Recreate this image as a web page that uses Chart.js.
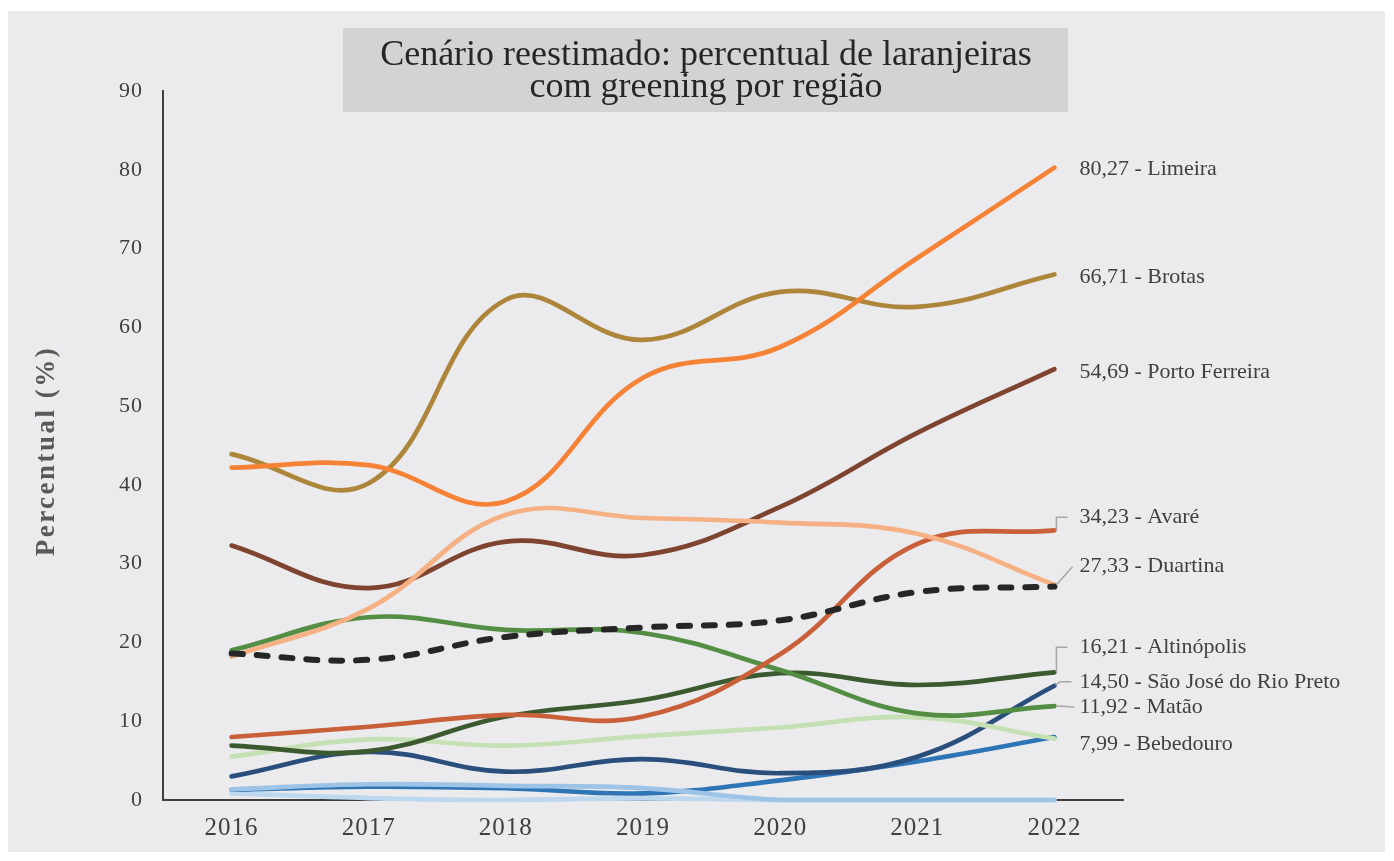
<!DOCTYPE html>
<html><head><meta charset="utf-8">
<script src="https://cdn.jsdelivr.net/npm/chart.js@4.4.0/dist/chart.umd.min.js"></script>
<style>html,body{margin:0;padding:0;background:#fff;overflow:hidden}#wrap{width:1394px;height:861px;position:relative}</style>
</head><body><div id="wrap"><canvas id="c"></canvas></div>
<script>
// ---- data ----
const years = ['2016','2017','2018','2019','2020','2021','2022'];
const limeira       = [42.2, 42.5, 37.9, 53.6, 57.5, 68.8, 80.27];
const brotas        = [43.9, 40.2, 63.5, 58.4, 64.5, 62.6, 66.71];
const portoFerreira = [32.3, 26.9, 32.8, 31.1, 37.2, 46.6, 54.69];
const avare         = [8.0, 9.3, 10.8, 10.6, 18.5, 32.5, 34.23];
const duartina      = [18.2, 24.3, 36.2, 35.8, 35.2, 33.8, 27.33];
const media         = [18.6, 17.8, 20.7, 21.9, 22.8, 26.4, 27.1];
const matao         = [19.0, 23.2, 21.6, 21.2, 16.5, 11.0, 11.92];
const altinopolis   = [6.9, 6.2, 10.6, 12.7, 16.1, 14.6, 16.21];
const verdeClaro    = [5.5, 7.7, 6.9, 8.1, 9.2, 10.5, 7.8];
const saoJose       = [3.0, 6.1, 3.6, 5.2, 3.4, 5.5, 14.50];
const bebedouro     = [1.3, 1.7, 1.5, 0.85, 2.5, 4.9, 7.99];
const azulClaro1    = [1.35, 2.0, 1.8, 1.5, 0, 0, 0];
const azulClaro2    = [0.85, 0.25, 0, 0.2, 0, 0, 0];
const yMin = 0, yMax = 90, yStep = 10;
const titleLines = ['Cenário reestimado: percentual de laranjeiras', 'com greening por região'];
const yTitle = 'Percentual (%)';
const endLabelTexts = ['80,27 - Limeira','66,71 - Brotas','54,69 - Porto Ferreira','34,23 - Avaré','27,33 - Duartina','16,21 - Altinópolis','14,50 - São José do Rio Preto','11,92 - Matão','7,99 - Bebedouro'];
const endLabelSeries = ['Limeira','Brotas','Porto Ferreira','Avaré','Duartina','Altinópolis','São José do Rio Preto','Matão','Bebedouro'];

// ---- styles ----
const SERIF = '"Liberation Serif", "DejaVu Serif", serif';
const seriesStyle = [
  ['Média', media, '#262626', 6, [11,14]],
  ['Limeira', limeira, '#f58235', 4.7],
  ['Duartina', duartina, '#f5b183', 4.7],
  ['Brotas', brotas, '#ad863b', 4.7],
  ['Porto Ferreira', portoFerreira, '#7e4430', 4.7],
  ['Avaré', avare, '#c9603a', 4.7],
  ['Matão', matao, '#548d44', 4.7],
  ['Altinópolis', altinopolis, '#3b5a2f', 4.7],
  ['Verde claro', verdeClaro, '#c5e0b3', 4.7],
  ['São José do Rio Preto', saoJose, '#2b4f7c', 4.7],
  ['Azul claro 1', azulClaro1, '#9dc3e6', 4.7],
  ['Bebedouro', bebedouro, '#2e75b6', 4.7],
  ['Azul claro 2', azulClaro2, '#bdd7ee', 4.7]
];
// label pixel offsets relative to line end: [dy, leader type]
const labelOffsets = {
  'Limeira':[2,null], 'Brotas':[3,null], 'Porto Ferreira':[3,null],
  'Avaré':[-13,'elbow'], 'Duartina':[-18,'diag'], 'Altinópolis':[-25,'elbow'],
  'São José do Rio Preto':[-4,'diag2'], 'Matão':[1,'flat'], 'Bebedouro':[7,null]
};

const decor = {
  id:'decor',
  beforeDraw(chart){
    const ctx = chart.ctx;
    ctx.save();
    ctx.fillStyle = '#ffffff'; ctx.fillRect(0,0,chart.width,chart.height);
    ctx.fillStyle = '#ebebed'; ctx.fillRect(8,11,1377,841);
    ctx.fillStyle = '#d3d3d5'; ctx.fillRect(343,28,725,84);
    ctx.fillStyle = '#262626';
    ctx.font = '36px ' + SERIF;
    ctx.textAlign = 'center'; ctx.textBaseline = 'alphabetic';
    ctx.fillText(titleLines[0], 706, 65);
    ctx.fillText(titleLines[1], 706, 97);
    // y axis title
    ctx.translate(47, 451);
    ctx.rotate(-Math.PI/2);
    ctx.font = 'bold 27px ' + SERIF;
    ctx.letterSpacing = '2.5px';
    ctx.fillStyle = '#595959';
    ctx.textBaseline = 'middle';
    ctx.fillText(yTitle, 0, 0);
    ctx.restore();
    ctx.letterSpacing = '1px';
  },
  beforeDatasetsDraw(chart){ chart.ctx.letterSpacing = '0px'; },
  afterDatasetsDraw(chart){
    const ctx = chart.ctx;
    ctx.save();
    ctx.font = '22px ' + SERIF;
    ctx.fillStyle = '#404040';
    ctx.textAlign = 'left'; ctx.textBaseline = 'middle';
    ctx.strokeStyle = '#a6a6a6'; ctx.lineWidth = 1.5;
    endLabelTexts.forEach((txt, i) => {
      const name = endLabelSeries[i];
      const di = chart.data.datasets.findIndex(d => d.label === name);
      const meta = chart.getDatasetMeta(di);
      const pt = meta.data[meta.data.length-1];
      const [dy, kind] = labelOffsets[name];
      const ly = pt.y + dy;
      const tx = pt.x + 25;
      ctx.beginPath();
      if (kind === 'elbow') {
        ctx.moveTo(pt.x+2, pt.y); ctx.lineTo(pt.x+2, ly); ctx.lineTo(pt.x+13, ly);
      } else if (kind === 'diag') {
        ctx.moveTo(pt.x+2, pt.y); ctx.lineTo(pt.x+18, ly);
      } else if (kind === 'diag2') {
        ctx.moveTo(pt.x+1, pt.y-1); ctx.lineTo(pt.x+6, ly); ctx.lineTo(pt.x+17, ly);
      } else if (kind === 'flat') {
        ctx.moveTo(pt.x+2, pt.y); ctx.lineTo(pt.x+20, ly);
      }
      if (kind) ctx.stroke();
      ctx.fillText(txt, tx, ly);
    });
    ctx.restore();
  }
};

const datasets = seriesStyle.map(s => ({
  label: s[0], data: s[1], borderColor: s[2], backgroundColor: s[2],
  borderWidth: s[3], borderDash: s[4] || [], borderCapStyle: 'round', borderJoinStyle: 'round',
  pointRadius: 0, pointHoverRadius: 0, tension: 0.4, fill: false, clip: false
}));

new Chart(document.getElementById('c'), {
  type: 'line',
  data: { labels: years, datasets },
  options: {
    responsive: true, maintainAspectRatio: false, animation: false,
    layout: { padding: { left: 0, right: 271, top: 91, bottom: 0 } },
    plugins: { legend: { display: false }, title: { display: false }, tooltip: { enabled: false } },
    scales: {
      x: {
        offset: true,
        grid: { display: false, drawTicks: false },
        border: { display: true, color: '#404040', width: 2 },
        ticks: { color: '#404040', font: { family: SERIF, size: 25 }, padding: 13, maxRotation: 0 },
        afterFit(s){ s.height = 61; }
      },
      y: {
        min: yMin, max: yMax,
        grid: { display: false, drawTicks: false },
        border: { display: true, color: '#404040', width: 2 },
        ticks: { stepSize: yStep, color: '#404040', font: { family: SERIF, size: 22 }, padding: 20 },
        afterFit(s){ s.width = 163; }
      }
    }
  },
  plugins: [decor]
});
</script></body></html>
